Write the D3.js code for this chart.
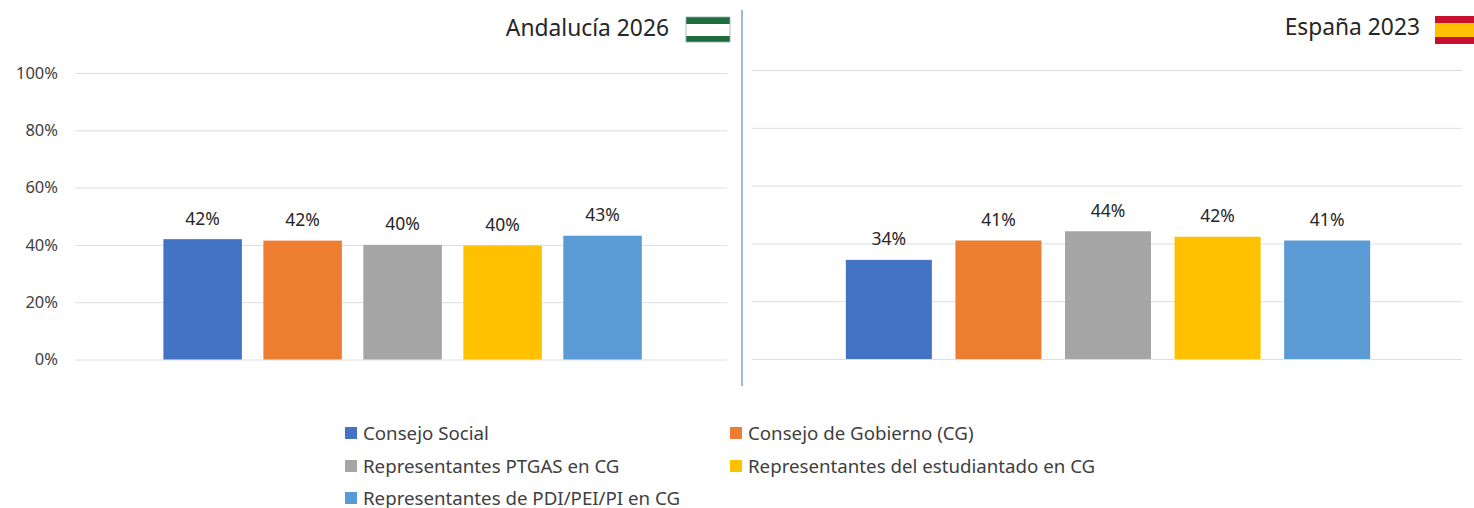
<!DOCTYPE html>
<html><head><meta charset="utf-8">
<script src="https://cdn.jsdelivr.net/npm/d3@7/dist/d3.min.js"></script>
<style>html,body{margin:0;padding:0;background:#fff}svg{display:block}text{font-family:"Noto Sans","Open Sans",sans-serif}</style>
</head><body><svg id="c" width="1474" height="508"></svg>
<script>
const categories=["Consejo Social","Consejo de Gobierno (CG)","Representantes PTGAS en CG","Representantes del estudiantado en CG","Representantes de PDI/PEI/PI en CG"];
const colors=["#4472C4","#ED7D31","#A5A5A5","#FFC000","#5B9BD5"];
const andalucia=[42,41.5,40,39.8,43.2];
const andaluciaLabels=["42%","42%","40%","40%","43%"];
const espana=[34.3,41,44.2,42.3,41];
const espanaLabels=["34%","41%","44%","42%","41%"];
const ticks=[0,20,40,60,80,100];
const svg=d3.select("#c");
function panel(o){
  const y=d3.scaleLinear().domain([0,100]).range([o.y0,o.y1]);
  const x=d3.scaleBand().domain(categories).range(o.band).paddingInner(.215).paddingOuter(.108);
  const g=svg.append("g");
  const axis=d3.axisLeft(y).tickValues(ticks).tickSize(-(o.x1-o.x0)).tickPadding(17).tickFormat(d=>d+"%");
  const a=g.append("g").attr("transform",`translate(${o.x0},0)`).call(axis);
  a.select(".domain").remove();
  a.selectAll("line").attr("stroke","#DEDEDE").attr("stroke-width",1);
  a.selectAll("text").attr("fill","#404040").style("font-size","16.5px").attr("display",o.showAxis?null:"none");
  g.selectAll("rect.bar").data(categories).join("rect").attr("class","bar")
    .attr("x",d=>x(d)).attr("width",x.bandwidth())
    .attr("y",(d,i)=>y(o.vals[i])).attr("height",(d,i)=>y(0)-y(o.vals[i]))
    .attr("fill",(d,i)=>colors[i]);
  g.selectAll("text.lab").data(categories).join("text").attr("class","lab")
    .attr("x",d=>x(d)+x.bandwidth()/2).attr("y",(d,i)=>y(o.vals[i])-14.5)
    .attr("text-anchor","middle").attr("fill","#262626").style("font-size","17.5px")
    .text((d,i)=>o.labs[i]);
}
panel({x0:75,x1:727,y0:359.5,y1:73,band:[152.6,652.6],vals:andalucia,labs:andaluciaLabels,showAxis:true});
panel({x0:752,x1:1462,y0:359,y1:70,band:[834,1382],vals:espana,labs:espanaLabels,showAxis:false});
svg.append("line").attr("x1",742).attr("x2",742).attr("y1",10).attr("y2",386).attr("stroke","#7A9ED8").attr("stroke-width",1.5);
svg.append("text").attr("x",669).attr("y",36).attr("text-anchor","end").attr("fill","#262626").style("font-size","22.8px").text("Andalucía 2026");
svg.append("text").attr("x",1420).attr("y",35).attr("text-anchor","end").attr("fill","#262626").style("font-size","22.8px").text("España 2023");
const flag=(x,y,w,parts)=>{let cy=y;parts.forEach(([h,c])=>{svg.append("rect").attr("x",x).attr("y",cy).attr("width",w).attr("height",h).attr("fill",c);cy+=h;});};
flag(686,17,44,[[7,"#1E6B3C"],[12,"#FFFFFF"],[6,"#1E6B3C"]]);
svg.append("rect").attr("x",686).attr("y",17).attr("width",44).attr("height",25).attr("fill","none").attr("stroke","#8FAFAF").attr("stroke-width",.8);
flag(1435,16,39,[[7,"#C8102E"],[14,"#FFC000"],[7,"#C8102E"]]);
const legendX=[345,730,345,730,345],legendY=[433,433,466,466,498];
const lg=svg.append("g").selectAll("g").data(categories).join("g").attr("transform",(d,i)=>`translate(${legendX[i]},${legendY[i]})`);
lg.append("rect").attr("y",-6).attr("width",12).attr("height",12).attr("fill",(d,i)=>colors[i]);
lg.append("text").attr("x",18).attr("y",6.5).attr("fill","#404040").style("font-size","18.7px").text(d=>d);
</script></body></html>
